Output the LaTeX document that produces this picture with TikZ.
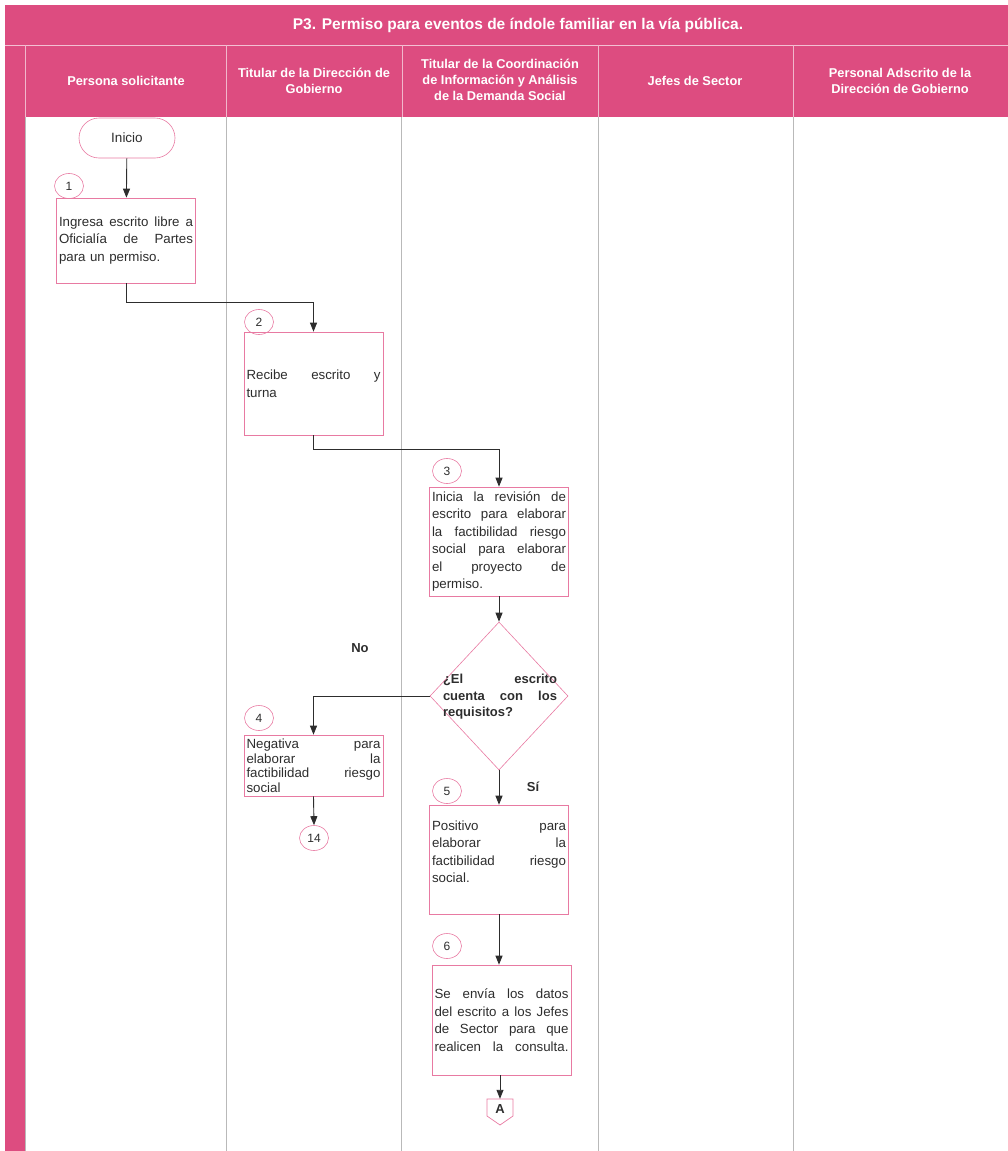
\documentclass[tikz,border=0pt]{standalone}
\usepackage{fontspec}
\setmainfont{Liberation Sans}
\usetikzlibrary{arrows.meta,shapes.geometric}
\definecolor{band}{RGB}{221,76,128}
\definecolor{edge}{RGB}{232,122,162}
\definecolor{ink}{RGB}{45,45,45}
\definecolor{lane}{RGB}{185,185,185}
\begin{document}
\begin{tikzpicture}[x=1pt,y=-1pt,
  every node/.style={text=ink},
  body/.style={font=\fontsize{13.3}{17.5}\selectfont},
  procbox/.style={body, draw=edge, line width=0.6pt, rectangle,
    minimum width=139pt, inner xsep=2.5pt, inner ysep=2pt, text width=134pt, align=left},
  numtag/.style={draw=edge, line width=0.6pt, ellipse, minimum width=29pt,
    minimum height=25pt, inner sep=0pt, font=\fontsize{12}{14}\selectfont},
  startbox/.style={draw=edge, line width=0.6pt, rectangle, rounded corners=20pt,
    minimum width=96pt, minimum height=40pt, font=\fontsize{13.5}{16}\selectfont},
  decision/.style={draw=edge, line width=0.6pt, diamond, minimum width=138pt,
    minimum height=148pt, inner sep=0pt},
  dectext/.style={font=\bfseries\fontsize{13}{16.5}\selectfont, text width=114pt, align=left, inner sep=0pt},
  lanehead/.style={text=white, font=\bfseries\fontsize{12.8}{16}\selectfont, align=center},
  branch/.style={font=\bfseries\fontsize{13}{15}\selectfont},
  flow/.style={draw=ink, line width=0.9pt, -{Triangle[length=9pt,width=7pt]}}
]
\useasboundingbox (0,0) rectangle (1008,1151);

% title band, lane headers and left strip
\fill[band] (5,5) rectangle (1008,117);
\fill[band] (5,117) rectangle (25,1151);
\draw[white!65!band, line width=0.8pt] (5,45) -- (1008,45);
\foreach \x in {25,226,402,598,793}
  \draw[white!60!band, line width=0.6pt] (\x,45) -- (\x,117);
\foreach \x in {226,401,598,793}
  \draw[lane, line width=0.5pt] (\x,117) -- (\x,1151);
\draw[lane, line width=0.5pt] (25,117) -- (25,1151);

\node[text=white, font=\bfseries\fontsize{15.5}{18}\selectfont] (title) at (518,25)
  {P3. Permiso para eventos de índole familiar en la vía pública.};
\node[lanehead] (h1) at (126,81) {Persona solicitante};
\node[lanehead] (h2) at (314,81) {Titular de la Dirección de\\Gobierno};
\node[lanehead] (h3) at (500,80) {Titular de la Coordinación\\de Información y Análisis\\de la Demanda Social};
\node[lanehead] (h4) at (695,81) {Jefes de Sector};
\node[lanehead] (h5) at (900,81) {Personal Adscrito de la\\Dirección de Gobierno};

% steps
\node[startbox] (start) at (127,138) {Inicio};

\node[procbox, minimum height=85pt] (b1) at (126,240.5)
  {Ingresa \hfill escrito \hfill libre \hfill a\\Oficialía \hfill de \hfill Partes\\para un permiso.};
\node[numtag] (n1) at (69,186) {1};

\node[procbox, minimum height=103pt] (b2) at (313.5,383.5)
  {Recibe \hfill escrito \hfill y\\turna};
\node[numtag] (n2) at (259,322) {2};

\node[procbox, minimum height=109pt] (b3) at (499,541.5)
  {Inicia \hfill la \hfill revisión \hfill de\\escrito \hfill para \hfill elaborar\\la \hfill factibilidad \hfill riesgo\\social \hfill para \hfill elaborar\\el \hfill proyecto \hfill de\\permiso.};
\node[numtag] (n3) at (447,471) {3};

\node[decision] (dec) at (499,696) {};
\node[dectext] (dq) at (500,697)
  {¿El \hfill escrito\\cuenta \hfill con \hfill los\\requisitos?};

\node[branch] (no) at (360,648) {No};
\node[branch] (si) at (533,787) {Sí};

\node[procbox, minimum height=61pt, font=\fontsize{13.3}{14.5}\selectfont] (b4) at (313.5,765.5)
  {Negativa \hfill para\\elaborar \hfill la\\factibilidad \hfill riesgo\\social};
\node[numtag] (n4) at (259,718) {4};
\node[numtag] (c14) at (314,838) {14};

\node[procbox, minimum height=109pt] (b5) at (499,859.5)
  {Positivo \hfill para\\elaborar \hfill la\\factibilidad \hfill riesgo\\social.\par\vspace*{16pt}};
\node[numtag] (n5) at (447,791) {5};

\node[procbox, minimum height=110pt] (b6) at (501.5,1020)
  {Se \hfill envía \hfill los \hfill datos\\del \hfill escrito \hfill a \hfill los \hfill Jefes\\de \hfill Sector \hfill para \hfill que\\realicen \hfill la \hfill consulta.};
\node[numtag] (n6) at (447,946) {6};

% off-page connector
\node[font=\bfseries\fontsize{13}{15}\selectfont, minimum width=26pt, minimum height=20pt, inner sep=0pt] (A) at (500,1109) {A};
\draw[draw=edge, line width=0.7pt] (487,1099) -- (513,1099) -- (513,1116) -- (500,1125) -- (487,1116) -- cycle;

% connectors
\draw[flow] (start) -- (b1);
\draw[flow] (b1.south) -- ++(0,19) -| (b2.north);
\draw[flow] (b2.south) -- ++(0,14) -| (b3.north);
\draw[flow] (b3.south) -- (dec.north);
\draw[flow] (dec.west) -| (b4.north);
\draw[flow] (b4.south) -- (c14.north);
\draw[flow] (dec.south) -- (b5.north);
\draw[flow] (b5.south) -- (b5.south |- b6.north);
\draw[flow] (b6.south -| A.north) -- (A.north);
\end{tikzpicture}
\end{document}
